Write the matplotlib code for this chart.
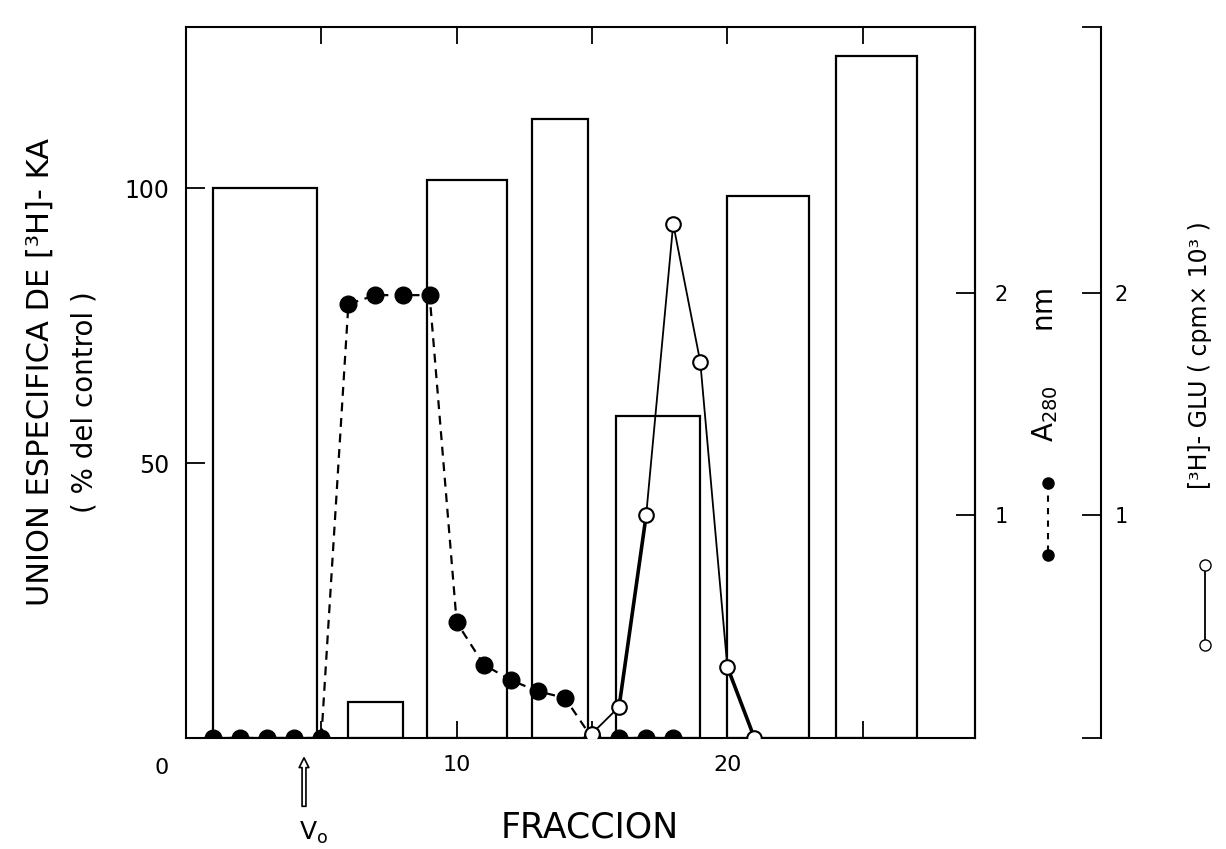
import matplotlib
matplotlib.use('Agg')
import matplotlib.pyplot as plt
from matplotlib.lines import Line2D

plt.rcParams['font.family'] = ['DejaVu Sans']

# pooled fractions (bar spans) and specific [3H]-KA binding, % of control
bar_start = [1.0, 6.0, 8.9, 12.8, 15.9, 20.0, 24.0]
bar_end = [4.85, 8.0, 11.85, 14.85, 19.0, 23.0, 27.0]
bar_height = [100, 6.5, 101.5, 112.5, 58.5, 98.5, 124]

# A280 nm per fraction (filled circles, dashed)
a280_frac = [1, 2, 3, 4, 5, 6, 7, 8, 9, 10, 11, 12, 13, 14, 15, 16, 17, 18]
a280 = [0, 0, 0, 0, 0, 1.95, 1.99, 1.99, 1.99, 0.52, 0.33, 0.26, 0.21, 0.18,
        0, 0, 0, 0]

# [3H]-GLU cpm x 10^3 (open circles, solid)
glu_frac = [15, 16, 17, 18, 19, 20, 21]
glu = [0.02, 0.14, 1.0, 2.31, 1.69, 0.32, 0.0]

W, H = 1226, 849
L, R, B, T = 186, 975, 738, 27   # axes box in pixels

fig = plt.figure(figsize=(W / 100, H / 100), dpi=100)
ax = fig.add_axes([L / W, 1 - B / H, (R - L) / W, (B - T) / H])

widths = [e - s for s, e in zip(bar_start, bar_end)]
ax.bar(bar_start, bar_height, width=widths, align='edge', fill=False,
       edgecolor='black', linewidth=1.6)

ax.set_xlim(0, 29.15)
ax.set_ylim(0, 129.3)
ax.set_xticks([0, 5, 10, 15, 20, 25])
ax.set_xticklabels(['', '', '10', '', '20', ''])
ax.set_yticks([50, 100])
ax.set_yticklabels(['50', '100'])
ax.tick_params(axis='x', direction='in', top=True, length=12, width=1.3,
               labelsize=16, pad=12)
ax.tick_params(axis='y', direction='in', length=14, width=1.3,
               labelsize=17, pad=12)
for s in ax.spines.values():
    s.set_linewidth(1.5)
ax.text(-0.9, -5.4, '0', ha='center', va='center', fontsize=16)

# A280 axis on the right edge of the box
ax2 = ax.twinx()
ax2.set_ylim(0, 3.195)
ax2.set_yticks([1, 2])
ax2.set_yticklabels(['1', '2'])
ax2.tick_params(axis='y', direction='in', length=14, width=1.3,
                labelsize=15, pad=14)
for k in ('left', 'top', 'bottom'):
    ax2.spines[k].set_visible(False)
ax2.spines['right'].set_linewidth(1.5)
ax2.plot(a280_frac, a280, linestyle=(0, (4, 3)), color='black', lw=1.6,
         marker='o', markersize=12, markerfacecolor='black',
         markeredgecolor='black', zorder=3)

# GLU axis, detached to the right
ax3 = ax.twinx()
ax3.set_ylim(0, 3.195)
ax3.spines['right'].set_position(('axes', (1101 - L) / (R - L)))
for k in ('left', 'top', 'bottom'):
    ax3.spines[k].set_visible(False)
ax3.spines['right'].set_linewidth(1.5)
ax3.set_yticks([0, 1, 2, 3.195])
ax3.set_yticklabels(['', '1', '2', ''])
ax3.tick_params(axis='y', direction='in', length=14, width=1.3,
                labelsize=15, pad=10)
ax3.plot(glu_frac, glu, color='black', lw=1.3, marker='o', markersize=10.5,
         markerfacecolor='white', markeredgecolor='black',
         markeredgewidth=1.5, zorder=4)
# heavier pen strokes on the rising and falling flanks
ax3.plot(glu_frac[1:3], glu[1:3], color='black', lw=2.6, zorder=3)
ax3.plot(glu_frac[5:7], glu[5:7], color='black', lw=2.6, zorder=3)

# axis titles
fig.text(40 / W, 1 - 372 / H, 'UNION ESPECIFICA DE [³H]- KA', rotation=90,
         ha='center', va='center', fontsize=22)
fig.text(84 / W, 1 - 402 / H, '( % del control )', rotation=90,
         ha='center', va='center', fontsize=20)
fig.text(590 / W, 1 - 828 / H, 'FRACCION', ha='center', va='center',
         fontsize=25)
fig.text(1045 / W, 1 - 365 / H, r'$\mathregular{A_{280}}$      nm',
         rotation=90, ha='center', va='center', fontsize=20)
fig.text(1200 / W, 1 - 355 / H, '[³H]- GLU ( cpm× 10³ )', rotation=90,
         ha='center', va='center', fontsize=17)

# key glyphs beside the right titles
fig.add_artist(Line2D([1048 / W, 1048 / W], [1 - 483 / H, 1 - 555 / H],
                      linestyle=(0, (3, 3)), color='black', lw=1.5,
                      marker='o', markersize=8, markerfacecolor='black'))
fig.add_artist(Line2D([1205 / W, 1205 / W], [1 - 565 / H, 1 - 645 / H],
                      color='black', lw=1.3, marker='o', markersize=8,
                      markerfacecolor='white', markeredgecolor='black'))

# void volume marker
ax.annotate('', xy=(4.36, -0.024), xycoords=('data', 'axes fraction'),
            xytext=(4.36, -0.10), textcoords=('data', 'axes fraction'),
            arrowprops=dict(arrowstyle='simple,head_length=0.7,head_width=0.7,tail_width=0.28',
                            fc='white', ec='black', lw=1.2),
            annotation_clip=False)
ax.text(4.7, -0.134, r'$\mathregular{V_o}$', transform=ax.get_xaxis_transform(),
        ha='center', va='center', fontsize=18)

fig.savefig('out.png', dpi=100)
